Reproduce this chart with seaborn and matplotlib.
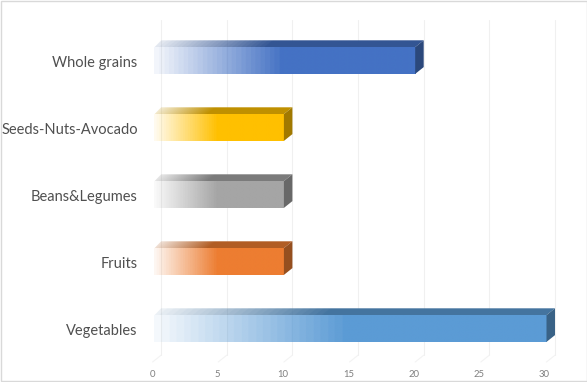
import numpy as np
import pandas as pd
import matplotlib
matplotlib.use("Agg")
import matplotlib.pyplot as plt
from matplotlib.patches import Polygon, Rectangle
from matplotlib.colors import to_rgb
from matplotlib.transforms import ScaledTranslation
import seaborn as sns

categories = ["Whole grains", "Seeds-Nuts-Avocado", "Beans&Legumes", "Fruits", "Vegetables"]
values = [20, 10, 10, 10, 30]
colors = ["#4472C4", "#FFC000", "#A5A5A5", "#ED7D31", "#5B9BD5"]
xticks = [0, 5, 10, 15, 20, 25, 30]

W, H = 587, 382
LEFT = 152.6
PX_X = 13.13          # pixels per x unit
PX_Y = 67.0           # pixels per category
DX = 8.5 / PX_X       # 3D depth
DY = 6.8 / PX_Y
FADE = 0.48
STEPS = 26

sns.set_theme(style="white")
plt.rcParams['font.family'] = ['Lato', 'DejaVu Sans']

fig = plt.figure(figsize=(W / 100, H / 100), dpi=100)
ax = fig.add_axes([LEFT / W, 1 - 362 / H, (W - LEFT) / W, (362 - 27) / H])

df = pd.DataFrame({"food": categories, "value": values})
sns.barplot(data=df, y="food", x="value", hue="food", palette=colors, legend=False,
            width=0.40, saturation=1, ax=ax, zorder=3, linewidth=0)

xmax = (W - LEFT) / PX_X
ymin, ymax = 4.5, -0.5


def fade_image(rgb, x0, x1, y0, y1, skew=0.0, fade=FADE, steps=STEPS):
    nx, ny = 300, 24
    u = np.linspace(0, 1, nx)[None, :] - skew * np.linspace(0, 1, ny)[:, None]
    a = 1 - np.clip(u / fade, 0, 1)
    a = np.ceil(a * steps) / steps * 0.93
    img = np.ones((ny, nx, 4))
    img[..., :3] = rgb
    img[..., 3] = 1 - a
    return ax.imshow(img, extent=(x0, x1, y1, y0), origin="upper", aspect="auto",
                     interpolation="bilinear", zorder=5)


# back wall and floor grid lines
for t in xticks:
    ax.plot([t + DX, t + DX], [ymin - DY, -0.6], color="#f0f0f0", lw=0.8, zorder=1, clip_on=False)
    ax.plot([t, t + DX], [ymin, ymin - DY], color="#f3f3f3", lw=0.8, zorder=1, clip_on=False)

for bar, col in zip(ax.patches, colors):
    x, y, w, h = bar.get_x(), bar.get_y(), bar.get_width(), bar.get_height()
    rgb = np.array(to_rgb(col))
    top = Polygon([(x + 0.15, y), (x + w, y), (x + w + DX, y - DY), (x + DX, y - DY)],
                  closed=True, fc="none", ec="none", zorder=3)
    side = Polygon([(x + w, y), (x + w + DX, y - DY), (x + w + DX, y + h - DY), (x + w, y + h)],
                   closed=True, fc=rgb * 0.63, ec="none", zorder=6)
    ax.add_patch(top)
    ax.add_patch(side)
    # fading of the front face towards the axis
    fade_image(rgb, x + 0.12, x + w, y, y + h)
    # fading of the top face; bands run diagonally along the depth
    im = fade_image(rgb * 0.75, x, x + w + DX, y - DY, y, skew=-DX / (w + DX), fade=0.44)
    im.set_clip_path(top)
    # the solid part of the bar starts where the fade ends
    bar.set_x(x + 0.12 + FADE * w)
    bar.set_width(w * (1 - FADE) - 0.12)

ax.set_xlim(0, xmax)
ax.set_ylim(ymin, ymax)
ax.set_xticks(xticks)
ax.set_xticklabels([str(t) for t in xticks], fontsize=6.8, color="#7f7f7f")
ax.tick_params(axis="x", length=0, pad=6)
ax.tick_params(axis="y", length=0, pad=10.7)
# the axis labels sit on a slightly narrower scale than the front plane
for t, lab in zip(xticks, ax.get_xticklabels()):
    lab.set_transform(lab.get_transform() +
                      ScaledTranslation(-(0.4 + 1.8 * t / 30) / 100, 0, fig.dpi_scale_trans))
for lab in ax.get_yticklabels():
    lab.set_fontsize(10.5)
    lab.set_color("#505050")
    lab.set_transform(lab.get_transform() +
                      ScaledTranslation(0, -1.5 / 100, fig.dpi_scale_trans))
ax.set_xlabel("")
ax.set_ylabel("")
ax.patch.set_alpha(0)
sns.despine(ax=ax, left=True, bottom=True)

# chart-area border
fig.add_artist(Rectangle((1.0 / W, 1.5 / H), (W - 1.5) / W, (H - 2.0) / H, fc="none",
                         ec="#d9d9d9", lw=1, transform=fig.transFigure))

fig.savefig("out.png", dpi=100)
